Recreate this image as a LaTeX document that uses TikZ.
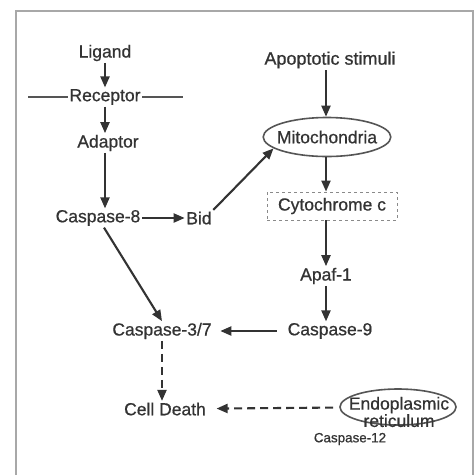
\documentclass[tikz,border=0pt]{standalone}
\usepackage{fontspec}
\setmainfont{Liberation Sans}[FakeBold=0.7]
\usepackage{xcolor}
\usetikzlibrary{shapes.geometric, arrows.meta}

\definecolor{ink}{HTML}{333333}
\definecolor{rim}{HTML}{555555}
\definecolor{boxgray}{HTML}{8A8A8A}
\definecolor{framegray}{HTML}{A8A8A8}

\begin{document}
\begin{tikzpicture}[x=1pt, y=-1pt, >={Triangle[length=11pt, width=9pt]},
    every node/.style={font=\fontsize{17.5}{20}\selectfont, text=ink, inner sep=1.5pt},
    flow/.style={->, draw=ink, line width=2.1pt},
    dflow/.style={flow, dash pattern=on 8pt off 5pt},
    membrane/.style={draw=rim, line width=1.5pt},
    organelle/.style={ellipse, draw=rim, line width=1.6pt, inner ysep=0pt},
    release/.style={draw=boxgray, dashed, line width=0.9pt, inner xsep=11pt, minimum height=28pt}]
    \useasboundingbox (0,0) rectangle (476,475);
    \fill[white] (0,0) rectangle (476,475);
    \draw[framegray, line width=1.2pt] (16,475) -- (16,11) -- (473,11) -- (473,475);

    % extrinsic branch
    \node (lig) at (105,53) {Ligand};
    \node (rec) at (105,97) {Receptor};
    \node (adap) at (108,143) {Adaptor};
    \node (c8) at (98,218) {Caspase-8};
    \node (bid) at (199,218) {Bid};
    \coordinate (memL) at (28,97);
    \coordinate (memR) at (183,97);

    % intrinsic branch
    \node[font=\fontsize{18}{20}\selectfont] (apo) at (330,60) {Apoptotic stimuli};
    \node[organelle, inner xsep=-5pt, minimum height=39pt] (mito) at (327,137) {Mitochondria};
    \node[release] (cytc) at (332,206) {Cytochrome c};
    \node (apaf) at (326,276) {Apaf-1};
    \node (c9) at (330,331) {Caspase-9};

    % execution
    \node (c37) at (162,331) {Caspase-3/7};
    \node (death) at (165,409) {Cell Death};
    \node[organelle, minimum width=116pt, minimum height=36pt] (er) at (398,407) {};
    \node[align=center, font=\fontsize{17.5}{13}\selectfont, inner sep=0pt] (ertxt) at (399,412) {Endoplasmic\\reticulum};
    \node[font=\fontsize{13.4}{15}\selectfont] (c12) at (350,439) {Caspase-12};

    \draw[membrane] (memL) -- (rec);
    \draw[membrane] (rec) -- (memR);

    \draw[flow] (lig.south -| lig) -- (rec.north -| lig);
    \draw[flow] (rec.south -| lig) -- (adap.north -| lig);
    \draw[flow] (adap.south -| lig) -- (c8.north -| lig);
    \draw[flow] (c8) -- (bid);
    \draw[flow] (bid.north east) -- (mito.192);
    \draw[flow] (c8.south) ++(6,0) -- (c37.north);

    \draw[flow] (apo.south -| apaf) -- (mito.north -| apaf);
    \draw[flow] (mito.south -| apaf) -- (cytc.north -| apaf);
    \draw[flow] (cytc.south -| apaf) -- (apaf.north);
    \draw[flow] (apaf.south) -- (c9.north -| apaf);
    \draw[flow, shorten <=9pt, shorten >=7pt] (c9) -- (c37);

    \draw[dflow] (c37) -- (death.north -| c37);
    \draw[dflow, shorten <=6pt, shorten >=9pt] (er) -- (death);
\end{tikzpicture}
\end{document}
